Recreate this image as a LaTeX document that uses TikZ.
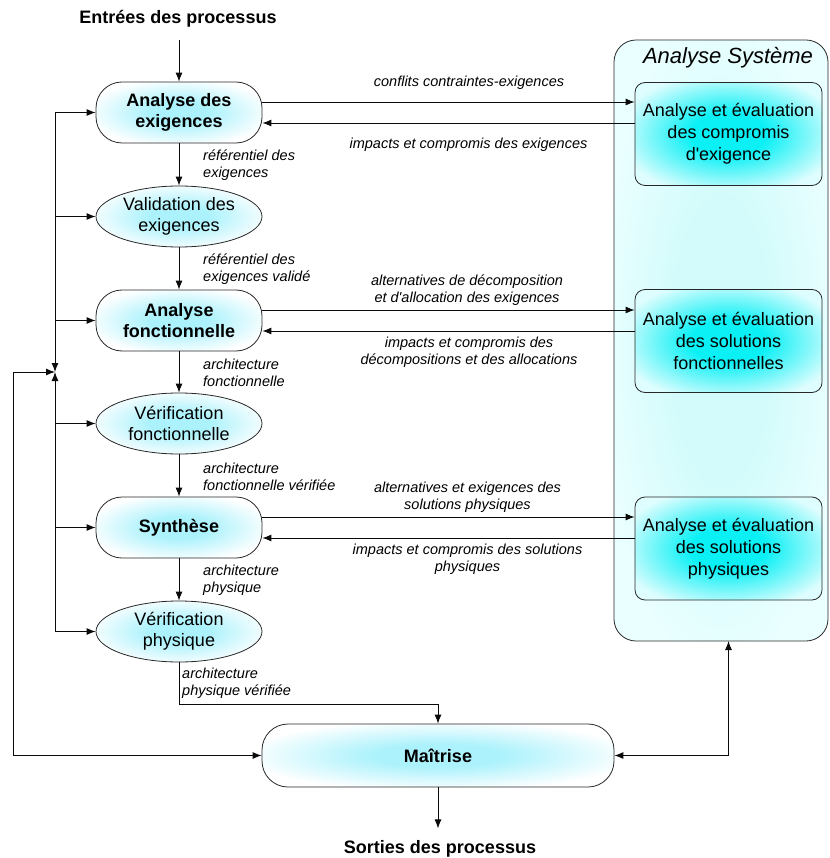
\documentclass[tikz,border=0pt]{standalone}
\usepackage{fontspec}
\setmainfont{Liberation Sans}
\newfontfamily\plainfont{Liberation Sans}
\newcommand{\sq}{{\plainfont'}}
\usetikzlibrary{arrows.meta,shapes.geometric,calc}
\definecolor{bordc}{RGB}{40,40,40}
\definecolor{linec}{RGB}{10,10,10}
\definecolor{lc}{RGB}{172,242,252}
\definecolor{aq}{RGB}{10,240,245}
\definecolor{aqlight}{RGB}{222,253,254}
\definecolor{bgin}{RGB}{212,251,251}
\definecolor{bgout}{RGB}{234,255,255}
\pgfdeclareradialshading{procshade}{\pgfpointorigin}{color(0bp)=(lc); color(9bp)=(lc); color(28bp)=(white); color(100bp)=(white)}
\pgfdeclareradialshading{evalshade}{\pgfpointorigin}{color(0bp)=(aq); color(10bp)=(aq); color(30bp)=(aqlight); color(100bp)=(aqlight)}
\pgfdeclareradialshading{bgshade}{\pgfpointorigin}{color(0bp)=(bgin); color(12bp)=(bgin); color(28bp)=(bgout); color(100bp)=(bgout)}
\tikzset{
  proc/.style={draw=bordc, line width=0.8pt, rounded corners=26pt,
    minimum width=166pt, minimum height=61pt, inner sep=0pt, align=center,
    font=\fontsize{18}{21}\selectfont\bfseries, shading=procshade},
  verif/.style={ellipse, draw=bordc, line width=0.8pt,
    minimum width=166pt, minimum height=61pt, inner sep=0pt, align=center,
    font=\fontsize{18}{21}\selectfont, shading=procshade},
  evalbox/.style={draw=bordc, line width=0.8pt, rounded corners=10pt,
    minimum width=187pt, minimum height=103pt, inner sep=0pt, align=center,
    font=\fontsize{18}{22}\selectfont, shading=evalshade},
  bigbox/.style={draw=bordc, line width=0.8pt, rounded corners=22pt,
    minimum width=214pt, minimum height=601pt, inner sep=0pt, shading=bgshade},
  lbl/.style={font=\fontsize{14.5}{17}\selectfont\itshape, align=left, inner sep=0pt, anchor=west},
  clbl/.style={font=\fontsize{14.5}{17}\selectfont\itshape, align=center, inner sep=0pt},
  ttl/.style={font=\fontsize{18}{21}\selectfont\bfseries, inner sep=0pt},
  arr/.style={-{Latex[length=9pt,width=7pt]}, line width=0.9pt, draw=linec},
  arrboth/.style={{Latex[length=9pt,width=7pt]}-{Latex[length=9pt,width=7pt]}, line width=0.9pt, draw=linec},
}
\begin{document}
\begin{tikzpicture}[x=1pt,y=-1pt]
\useasboundingbox (0,0) rectangle (829,858);

% Analyse Systeme container
\node[bigbox] (as) at (721,340.5) {};
\node[font=\fontsize{22}{26}\selectfont\itshape, inner sep=0pt] (ast) at (728,58) {Analyse Système};
\node[evalbox] (c1) at (728.5,134) {Analyse et évaluation\\des compromis\\d\sq exigence};
\node[evalbox] (c2) at (728.5,341) {Analyse et évaluation\\des solutions\\fonctionnelles};
\node[evalbox] (c3) at (728.5,548.5) {Analyse et évaluation\\des solutions\\physiques};

% main chain
\node[ttl] (in) at (178,19) {Entrées des processus};
\node[proc] (ae) at (179,112.5) {Analyse des\\exigences};
\node[verif] (ve) at (179,216.5) {Validation des\\exigences};
\node[proc] (af) at (179,320.5) {Analyse\\fonctionnelle};
\node[verif] (vf) at (179,423.5) {Vérification\\fonctionnelle};
\node[proc] (sy) at (179,527.5) {Synthèse};
\node[verif] (vp) at (179,631.5) {Vérification\\physique};
\node[proc, minimum width=352pt, minimum height=63pt] (ma) at (438,755.5) {Maîtrise};
\node[ttl] (out) at (440,849) {Sorties des processus};

% vertical flow
\draw[arr, shorten <=12pt] (in.south -| ae.north) -- (ae.north);
\draw[arr] (ae) -- (ve);
\draw[arr] (ve) -- (af);
\draw[arr] (af) -- (vf);
\draw[arr] (vf) -- (sy);
\draw[arr] (sy) -- (vp);
\draw[arr] (vp.south) -- ++(0,42) -| (ma.north);
\draw[arr, shorten >=12pt] (ma.south) -- (ma.south |- out.north);

\node[lbl] (l1) at (203,165.5) {référentiel des\\exigences};
\node[lbl] (l2) at (203,269) {référentiel des\\exigences validé};
\node[lbl] (l3) at (203,372.5) {architecture\\fonctionnelle};
\node[lbl] (l4) at (203,476.5) {architecture\\fonctionnelle vérifiée};
\node[lbl] (l5) at (203,580) {architecture\\physique};
\node[lbl] (l6) at (182,683.5) {architecture\\physique vérifiée};

% left bus
\coordinate (J) at (55,372);
\coordinate (L) at (13,372);
\draw[arr] (J |- ae.west) -- (ae.west);
\draw[arr] (J |- ve.west) -- (ve.west);
\draw[arr] (J |- af.west) -- (af.west);
\draw[arr] (J |- vf.west) -- (vf.west);
\draw[arr] (J |- sy.west) -- (sy.west);
\draw[arr] (J |- vp.west) -- (vp.west);
\draw[arr] (J |- ae.west) -- (J);
\draw[arr] (J |- vp.west) -- (J);
\draw[arrboth] (J) -- (L) |- (ma.west);

% right link
\coordinate (R) at (728.5,641);
\draw[arrboth] (ma.east) -| (R);

% horizontal exchanges
\draw[arr] (ae.east |- 0,102) -- (c1.west |- 0,102);
\draw[arr] (c1.west |- 0,123) -- (ae.east |- 0,123);
\draw[arr] (af.east |- 0,310) -- (c2.west |- 0,310);
\draw[arr] (c2.west |- 0,331) -- (af.east |- 0,331);
\draw[arr] (sy.east |- 0,517) -- (c3.west |- 0,517);
\draw[arr] (c3.west |- 0,538) -- (sy.east |- 0,538);

\node[clbl] (h1) at (469,83) {conflits contraintes-exigences};
\node[clbl] (h2) at (468.5,145) {impacts et compromis des exigences};
\node[clbl] (h3) at (467,290) {alternatives de décomposition\\et d\sq allocation des exigences};
\node[clbl] (h4) at (469,352) {impacts et compromis des\\décompositions et des allocations};
\node[clbl] (h5) at (467.5,497) {alternatives et exigences des\\solutions physiques};
\node[clbl] (h6) at (467.5,559.5) {impacts et compromis des solutions\\physiques};
\end{tikzpicture}
\end{document}
